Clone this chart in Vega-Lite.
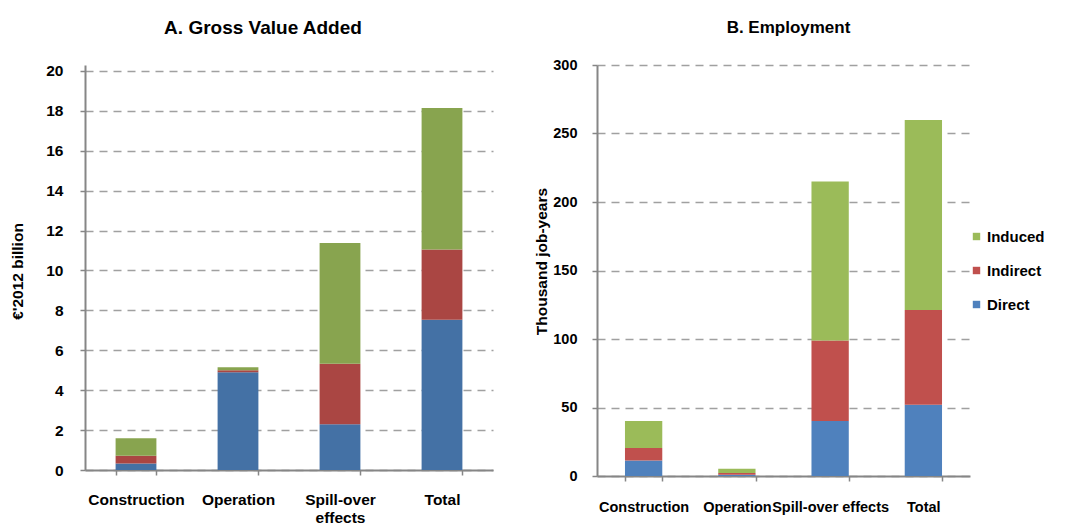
{
  "$schema": "https://vega.github.io/schema/vega-lite/v6.json",
  "background": "white",
  "padding": {"left": 10, "top": 18, "right": 0, "bottom": 0},
  "spacing": 41,
  "config": {
    "view": {"stroke": null},
    "font": "Liberation Sans",
    "axis": {
      "labelFont": "Liberation Sans",
      "labelFontWeight": "bold",
      "labelColor": "#000000",
      "titleFont": "Liberation Sans",
      "titleFontSize": 15.5,
      "titleFontWeight": "bold",
      "titleColor": "#000000",
      "domainColor": "#868686",
      "domainWidth": 2,
      "tickColor": "#868686",
      "tickWidth": 1.5,
      "tickSize": 5,
      "gridColor": "#a0a0a0",
      "gridWidth": 1.5,
      "gridDash": [8, 6]
    },
    "axisX": {"grid": false, "labelAngle": 0, "tickBand": "extent", "title": null},
    "axisY": {"grid": true, "domain": true},
    "title": {"font": "Liberation Sans", "fontWeight": "bold", "color": "#000000", "anchor": "middle"},
    "legend": {"labelFont": "Liberation Sans", "labelFontSize": 15, "labelFontWeight": "bold", "labelColor": "#000000"}
  },
  "resolve": {"scale": {"color": "independent"}},
  "hconcat": [
    {
      "width": 408,
      "height": 405,
      "title": {"text": "A. Gross Value Added", "fontSize": 19, "offset": 26, "dx": -26},
      "data": {"values": [
        {"cat": "Construction", "type": "Direct", "o": 1, "value": 0.33},
        {"cat": "Construction", "type": "Indirect", "o": 2, "value": 0.39},
        {"cat": "Construction", "type": "Induced", "o": 3, "value": 0.87},
        {"cat": "Operation", "type": "Direct", "o": 1, "value": 4.9},
        {"cat": "Operation", "type": "Indirect", "o": 2, "value": 0.1},
        {"cat": "Operation", "type": "Induced", "o": 3, "value": 0.15},
        {"cat": "Spill-over effects", "type": "Direct", "o": 1, "value": 2.29},
        {"cat": "Spill-over effects", "type": "Indirect", "o": 2, "value": 3.03},
        {"cat": "Spill-over effects", "type": "Induced", "o": 3, "value": 6.06},
        {"cat": "Total", "type": "Direct", "o": 1, "value": 7.53},
        {"cat": "Total", "type": "Indirect", "o": 2, "value": 3.52},
        {"cat": "Total", "type": "Induced", "o": 3, "value": 7.09}
      ]},
      "mark": {"type": "bar"},
      "encoding": {
        "x": {
          "field": "cat", "type": "nominal",
          "sort": ["Construction", "Operation", "Spill-over effects", "Total"],
          "scale": {"paddingInner": 0.6, "paddingOuter": 0.3},
          "axis": {
            "labelExpr": "datum.label == 'Spill-over effects' ? ['Spill-over', 'effects'] : datum.label",
            "labelFontSize": 15.5,
            "labelPadding": 17,
            "labelLineHeight": 18
          }
        },
        "y": {
          "field": "value", "type": "quantitative", "stack": "zero",
          "scale": {"domain": [0, 20.3], "nice": false},
          "axis": {"values": [0, 2, 4, 6, 8, 10, 12, 14, 16, 18, 20], "title": "€'2012 billion", "labelFontSize": 15.5, "titlePadding": 20, "labelPadding": 17, "titleY": 206}
        },
        "color": {
          "field": "type", "type": "nominal",
          "scale": {"domain": ["Induced", "Indirect", "Direct"], "range": ["#88A44F", "#AA4643", "#4471A5"]},
          "legend": null
        },
        "order": {"field": "o", "type": "quantitative"}
      }
    },
    {
      "width": 373,
      "height": 411,
      "title": {"text": "B. Employment", "fontSize": 17, "offset": 20, "dx": 5},
      "data": {"values": [
        {"cat": "Construction", "type": "Direct", "o": 1, "value": 11.4},
        {"cat": "Construction", "type": "Indirect", "o": 2, "value": 9.0},
        {"cat": "Construction", "type": "Induced", "o": 3, "value": 19.7},
        {"cat": "Operation", "type": "Direct", "o": 1, "value": 1.0},
        {"cat": "Operation", "type": "Indirect", "o": 2, "value": 1.2},
        {"cat": "Operation", "type": "Induced", "o": 3, "value": 3.1},
        {"cat": "Spill-over effects", "type": "Direct", "o": 1, "value": 40.1},
        {"cat": "Spill-over effects", "type": "Indirect", "o": 2, "value": 58.8},
        {"cat": "Spill-over effects", "type": "Induced", "o": 3, "value": 116.1},
        {"cat": "Total", "type": "Direct", "o": 1, "value": 52.0},
        {"cat": "Total", "type": "Indirect", "o": 2, "value": 69.2},
        {"cat": "Total", "type": "Induced", "o": 3, "value": 138.7}
      ]},
      "mark": {"type": "bar"},
      "encoding": {
        "x": {
          "field": "cat", "type": "nominal",
          "sort": ["Construction", "Operation", "Spill-over effects", "Total"],
          "scale": {"paddingInner": 0.6, "paddingOuter": 0.3},
          "axis": {"labelPadding": 19, "labelFontSize": 14.5}
        },
        "y": {
          "field": "value", "type": "quantitative", "stack": "zero",
          "scale": {"domain": [0, 300], "nice": false},
          "axis": {"values": [0, 50, 100, 150, 200, 250, 300], "title": "Thousand job-years", "labelFontSize": 14.5, "titlePadding": 3, "labelPadding": 15, "titleY": 196}
        },
        "color": {
          "field": "type", "type": "nominal",
          "scale": {"domain": ["Induced", "Indirect", "Direct"], "range": ["#9BBB59", "#C0504D", "#4F81BD"]},
          "legend": {
            "title": null,
            "orient": "none",
            "legendX": 372,
            "legendY": 164,
            "symbolType": "square",
            "symbolSize": 55,
            "symbolStrokeWidth": 0,
            "rowPadding": 18,
            "labelOffset": 3
          }
        },
        "order": {"field": "o", "type": "quantitative"}
      }
    }
  ]
}
